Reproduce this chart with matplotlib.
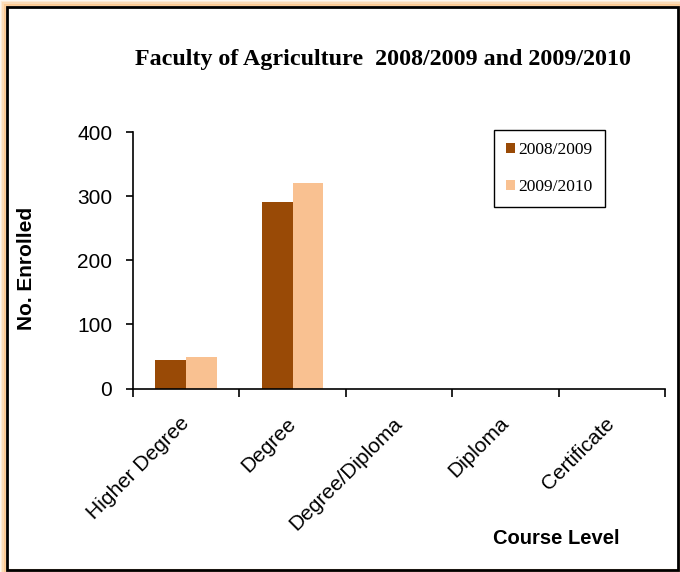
import numpy as np
import matplotlib.pyplot as plt
from matplotlib.patches import Rectangle

# data
levels = ['Higher Degree', 'Degree', 'Degree/Diploma', 'Diploma', 'Certificate']
enrol_0809 = [44, 291, 0, 0, 0]
enrol_0910 = [49, 320, 0, 0, 0]
years = ['2008/2009', '2009/2010']

c_dark = '#994A06'
c_light = '#F9C191'

fig = plt.figure(figsize=(6.8, 5.72), dpi=100)

# orange glow + black frame round the chart
for i, a in enumerate([0.08, 0.15, 0.25, 0.4]):
    pad = (4 - i) * 1.5
    fig.patches.append(Rectangle((7 - pad, 3 - pad), 671 + 2 * pad, 562 + 2 * pad,
                                 transform=None, fill=False, edgecolor='#FBA94E',
                                 linewidth=3, alpha=a, zorder=0))
fig.patches.append(Rectangle((7, 2), 671, 563, transform=None, fill=False,
                             edgecolor='black', linewidth=2, zorder=1))

ax = fig.add_axes([133 / 680, 1 - 388.5 / 572, (665 - 133) / 680, (388.5 - 132) / 572])
x = np.arange(len(levels))
w = 0.29
ax.bar(x - w / 2, enrol_0809, w, color=c_dark, label=years[0])
ax.bar(x + w / 2, enrol_0910, w, color=c_light, label=years[1])

ax.set_xlim(-0.5, len(levels) - 0.5)
ax.set_ylim(0, 400)
ax.set_yticks([0, 100, 200, 300, 400])
ax.set_xticks(np.arange(len(levels) + 1) - 0.5, minor=False)
ax.set_xticklabels([])
ax.set_xticks(x, minor=True)
ax.set_xticklabels(levels, minor=True, rotation=45, ha='right', va='center',
                   rotation_mode='anchor', fontsize=15, family='Liberation Sans')
ax.tick_params(axis='x', which='minor', length=0, pad=23)
ax.tick_params(axis='x', which='major', length=6, direction='out', width=1.2)
ax.tick_params(axis='y', length=5, direction='out', width=1.2, labelsize=15, pad=10)
for t in ax.get_yticklabels():
    t.set_family('Liberation Sans')
for s in ['top', 'right']:
    ax.spines[s].set_visible(False)
ax.spines['left'].set_linewidth(1.2)
ax.spines['bottom'].set_linewidth(1.2)

fig.text(383 / 680, 1 - 60 / 572, 'Faculty of Agriculture  2008/2009 and 2009/2010',
         ha='center', va='center', fontsize=17.3, fontweight='bold', family='Liberation Serif')
fig.text(26 / 680, 1 - 268 / 572, 'No. Enrolled', rotation=90, ha='center', va='center',
         fontsize=15, fontweight='bold', family='Liberation Sans')
fig.text(556 / 680, 1 - 538 / 572, 'Course Level', ha='center', va='center',
         fontsize=14.5, fontweight='bold', family='Liberation Sans')

leg = ax.legend(loc='upper left', bbox_to_anchor=(494 / 680, 1 - 130 / 572),
                bbox_transform=fig.transFigure, borderaxespad=0, fancybox=False,
                edgecolor='black', framealpha=1, handlelength=0.5, handleheight=0.5,
                handletextpad=0.2, labelspacing=1.2, borderpad=0.7,
                prop={'family': 'Liberation Serif', 'size': 12.5})
leg.get_frame().set_linewidth(1)

fig.savefig('out.png', dpi=100)
